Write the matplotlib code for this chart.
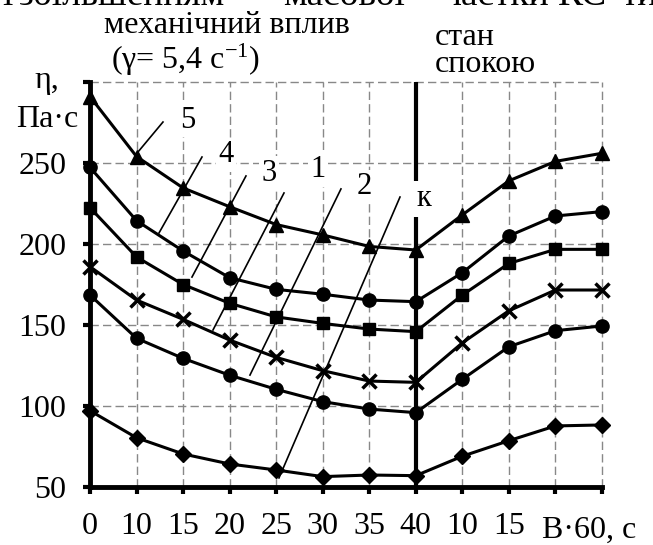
import matplotlib
matplotlib.use('Agg')
import matplotlib.pyplot as plt

plt.rcParams['font.family'] = ['Liberation Serif', 'DejaVu Serif']
plt.rcParams['mathtext.fontset'] = 'custom'
plt.rcParams['mathtext.rm'] = 'Liberation Serif'
plt.rcParams['mathtext.default'] = 'regular'

# x positions: 0..7 mechanical action, 8..11 rest state
x_pos = list(range(12))
x_labels = ['0', '10', '15', '20', '25', '30', '35', '40', '10', '15', '', '']

# viscosity, Pa*s
s5 = [291, 254, 234.6, 223, 212, 205.6, 198.5, 196.3, 218, 239, 251, 256]
s4 = [247.3, 214.4, 195.7, 179.2, 172, 169, 165.4, 164.4, 182.3, 205, 217.3, 220]
s3 = [222.4, 192, 175, 163.4, 155, 151, 147.5, 145.9, 168.5, 188, 196.7, 196.7]
s1 = [186, 165.4, 153.5, 140.7, 130, 121.8, 115.4, 114.6, 139, 158.8, 171.6, 171.6]
s2 = [168.5, 141.8, 129.4, 119, 110.3, 102.7, 98.1, 95.9, 116.5, 136.6, 146.5, 149.4]
sk = [97.1, 80.4, 70.4, 64.2, 60.5, 56.4, 57.4, 57, 69, 78.6, 87.7, 88.3]

series = [
    (s5, '^', 10),
    (s4, 'o', 9.5),
    (s3, 's', 8.5),
    (s1, 'x', 9.5),
    (s2, 'o', 9.5),
    (sk, 'D', 8),
]

# curve labels: text, label pos, leader start, leader end (data coords)
labels = [
    ('5', (2.105, 276.5), (1.568, 275.3), (1.031, 256.8)),
    ('4', (2.92, 255.0), (2.406, 253.7), (1.482, 206.8)),
    ('3', (3.845, 243.8), (3.351, 242.0), (2.191, 179.6)),
    ('1', (4.898, 245.7), (4.168, 231.5), (2.642, 146.9)),
    ('2', (5.886, 235.2), (5.392, 234.0), (3.437, 119.1)),
]

fs = 23

fig = plt.figure(figsize=(6.53, 5.45), dpi=100)
ax = fig.add_axes([90 / 653, 58 / 545, 512 / 653, 405 / 545])

ax.set_xlim(0, 11)
ax.set_ylim(50, 300)

for v in range(1, 12):
    ax.plot([v, v], [50, 300], color='#888888', lw=1.0, ls=(0, (6, 3)),
            zorder=0.5, clip_on=False)
for v in range(100, 301, 50):
    ax.plot([0, 11], [v, v], color='#888888', lw=1.0, ls=(0, (6, 3)),
            zorder=0.5, clip_on=False)

ax.plot([7, 7], [50, 300], color='black', lw=3.0, zorder=2,
        solid_capstyle='butt', clip_on=False)

for ys, m, ms in series:
    ax.plot(x_pos, ys, color='black', lw=2.2, marker=m, ms=ms,
            mfc='black', mec='black', mew=2.5 if m == 'x' else 1,
            zorder=5, clip_on=False)

for txt, lp, p0, p1 in labels:
    ax.plot([p0[0], p1[0]], [p0[1], p1[1]], color='black', lw=1.2, zorder=3)
    ax.text(lp[0], lp[1], txt, fontsize=22, ha='center', va='center', zorder=4,
            bbox=dict(facecolor='white', edgecolor='none', pad=1.5))

ax.plot([6.66, 4.06], [229.0, 55.6], color='black', lw=1.2, zorder=3)
ax.text(7.02, 228, 'к', fontsize=22, ha='left', va='center', zorder=4,
        bbox=dict(facecolor='white', edgecolor='none', pad=2.5))

for sp in ['top', 'right']:
    ax.spines[sp].set_visible(False)
for sp in ['left', 'bottom']:
    ax.spines[sp].set_linewidth(3.5)
    ax.spines[sp].set_zorder(6)

ax.set_xticks(x_pos)
ax.set_xticklabels(x_labels)
ax.set_yticks([50, 100, 150, 200, 250, 300])
ax.set_yticklabels(['50', '100', '150', '200', '250', ''])
ax.tick_params(axis='both', direction='out', length=5, width=3,
               labelsize=fs, colors='black')
ax.tick_params(axis='y', pad=12)
ax.tick_params(axis='x', pad=13)

ax.text(10.72, -0.126, 'В·60, с', fontsize=fs, ha='center', va='baseline',
        transform=ax.get_xaxis_transform())

fig.text(104 / 653, 1 - 33 / 545, 'механічний вплив', fontsize=fs, va='baseline')
fig.text(111 / 653, 1 - 69 / 545, '(γ= 5,4 c$^{-1}$)', fontsize=fs, va='baseline')
fig.text(435 / 653, 1 - 45 / 545, 'стан', fontsize=fs, va='baseline')
fig.text(435 / 653, 1 - 72 / 545, 'спокою', fontsize=fs, va='baseline')
fig.text(34 / 653, 1 - 88 / 545, 'η,', fontsize=fs, va='baseline')
fig.text(16 / 653, 1 - 127 / 545, 'Па·с', fontsize=fs, va='baseline')

# clipped line of page text above the chart
top_words = [('і', 2), ('збільшенням', 19), ('масової', 283), ('частки', 442),
             ('КС', 558), ('тиксо', 621)]
for w, px in top_words:
    fig.text(px / 653, 1 - 5 / 545, w, fontsize=27, va='baseline')

fig.savefig('out.png', dpi=100)
